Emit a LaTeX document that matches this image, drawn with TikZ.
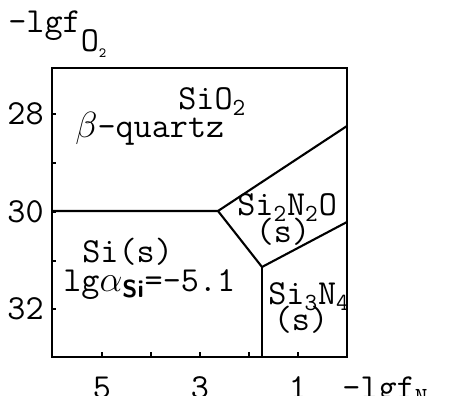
\documentclass[tikz,border=0pt]{standalone}
\usepackage{fontspec}
\setmainfont{Latin Modern Mono}
\usepackage{tikz}

\tikzset{
  lbl/.style={inner sep=0pt, font=\fontsize{20}{22}\selectfont},
  phase/.style={line width=1.2pt},
}

\begin{document}
\begin{tikzpicture}
                    \useasboundingbox (0,0) rectangle (9,7.92);
                    % Define corners and triple points
                    \coordinate (LL) at (1.04,0.78);
                    \coordinate (UR) at (6.94,6.56);
                    \coordinate (L30) at (1.04,3.70);
                    \coordinate (A) at (4.36,3.70);
                    \coordinate (R1) at (6.94,5.40);
                    \coordinate (B) at (5.24,2.58);
                    \coordinate (R2) at (6.94,3.48);
                    \coordinate (Bbot) at (5.24,0.78);

                    % Frame and phase boundaries
                    \draw[phase] (LL) rectangle (UR);
                    \draw[phase] (L30) -- (A) -- (R1);
                    \draw[phase] (A) -- (B) -- (R2);
                    \draw[phase] (B) -- (Bbot);

                    % Ticks
                    \foreach \y in {5.64,4.66,3.68,2.70,1.74}
                        \draw[phase] (1.04,\y) -- ++(0.09,0);
                    \foreach \x in {2.04,3.02,4.00,4.98,5.96}
                        \draw[phase] (\x,0.78) -- ++(0,0.1);

                    % Axis labels
                    \node (ylab) at (0.16,7.26) [lbl, anchor=base west] {-lgf\raisebox{-1.2ex}{O\raisebox{-0.4ex}{\footnotesize\bfseries 2}}};
                    \node (t28) at (0.88,5.64) [lbl, anchor=east] {28};
                    \node (t30) at (0.88,3.68) [lbl, anchor=east] {30};
                    \node (t32) at (0.88,1.74) [lbl, anchor=east] {32};
                    \node (t5) at (2.04,-0.06) [lbl, anchor=base] {5};
                    \node (t3) at (4.00,-0.06) [lbl, anchor=base] {3};
                    \node (t1) at (5.96,-0.06) [lbl, anchor=base] {1};
                    \node (xlab) at (6.84,-0.06) [lbl, anchor=base west] {-lgf\textsubscript{N}};

                    % Phase fields
                    \node (sio) at (3.56,5.72) [lbl, anchor=base west] {SiO\textsubscript{2}};
                    \node (quartz) at (1.50,5.16) [lbl, anchor=base west] {$\beta$-quartz};
                    \node (sino) at (4.74,3.60) [lbl, anchor=base west] {Si\textsubscript{\bfseries 2}N\textsubscript{2}O};
                    \node (sinos) at (5.66,3.06) [lbl, anchor=base] {(s)};
                    \node (si) at (1.64,2.66) [lbl, anchor=base west] {Si(s)};
                    \node (act) at (1.26,2.08) [lbl, anchor=base west] {lg$\alpha$\textsubscript{\textsf{\textbf{Si}}}=-5.1};
                    \node (sin) at (5.36,1.82) [lbl, anchor=base west] {Si\textsubscript{\bfseries 3}N\textsubscript{\bfseries 4}};
                    \node (sins) at (6.02,1.30) [lbl, anchor=base] {(s)};
                \end{tikzpicture}
\end{document}
